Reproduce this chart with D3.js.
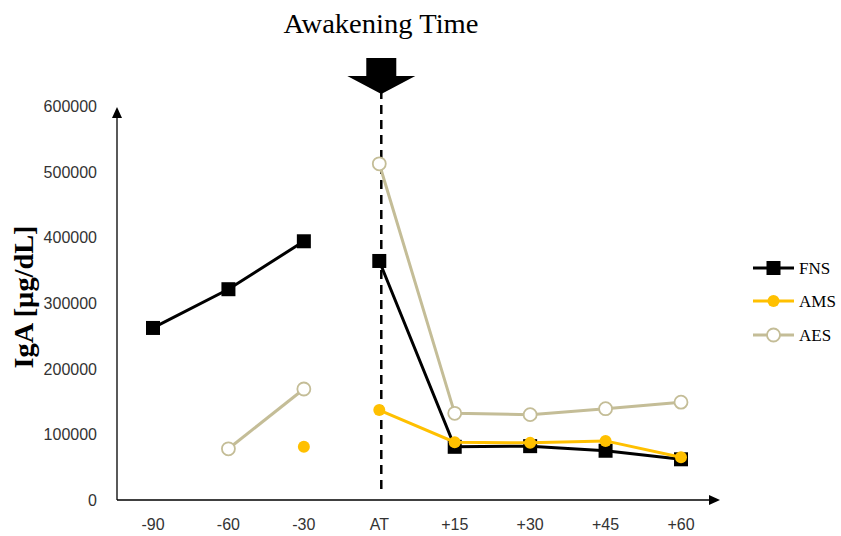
<!DOCTYPE html>
<html><head><meta charset="utf-8">
<script src="https://cdn.jsdelivr.net/npm/d3@7"></script>
<style>body{margin:0;background:#fff}</style>
</head><body>
<svg id="c" width="841" height="536"></svg>
<script>
const categories = ["-90","-60","-30","AT","+15","+30","+45","+60"];
const yTicks = [0,100000,200000,300000,400000,500000,600000];
const fns = [262000,321000,394000,364000,81000,82000,75000,62000];
const ams = [null,null,81000,137000,88000,87000,90000,65000];
const aes = [null,78000,169000,512000,132000,130000,139000,149000];
// segments not connected across the gap before AT
const breakBefore = "AT";

const svg = d3.select("#c");
const x = d3.scalePoint().domain(categories).range([153,681]);
const y = d3.scaleLinear().domain([0,600000]).range([500,106]);

// axes
svg.append("line").attr("x1",117).attr("x2",117).attr("y1",500).attr("y2",116).attr("stroke","#000").attr("stroke-width",1.3);
svg.append("path").attr("d","M117,107 L112,118 L122,118 Z").attr("fill","#000");
svg.append("line").attr("x1",117).attr("x2",710).attr("y1",500).attr("y2",500).attr("stroke","#000").attr("stroke-width",1.3);
svg.append("path").attr("d","M720,500 L709,495 L709,505 Z").attr("fill","#000");

const tickFont = "'Liberation Sans', Arial, sans-serif";
svg.selectAll(".yt").data(yTicks).enter().append("text")
  .attr("x",97).attr("y",d=>y(d)+6).attr("text-anchor","end")
  .attr("font-family",tickFont).attr("font-size",16).attr("fill","#333").text(d=>d);
svg.selectAll(".xt").data(categories).enter().append("text")
  .attr("x",d=>x(d)).attr("y",530).attr("text-anchor","middle")
  .attr("font-family",tickFont).attr("font-size",16).attr("fill","#333").text(d=>d);

svg.append("text").attr("transform","translate(33,297) rotate(-90)").attr("text-anchor","middle")
  .attr("font-family","'Liberation Serif','Times New Roman',serif").attr("font-weight","bold").attr("font-size",27)
  .attr("textLength",143).attr("lengthAdjust","spacingAndGlyphs").text("IgA [µg/dL]");

// awakening time
const ax = x("AT")+2;
svg.append("text").attr("x",381).attr("y",33).attr("text-anchor","middle")
  .attr("font-family","'Liberation Serif','Times New Roman',serif").attr("font-size",27)
  .attr("textLength",195).attr("lengthAdjust","spacingAndGlyphs").text("Awakening Time");
svg.append("line").attr("x1",ax).attr("x2",ax).attr("y1",90).attr("y2",490)
  .attr("stroke","#000").attr("stroke-width",2.5).attr("stroke-dasharray","9,6");
svg.append("path").attr("d",`M${ax-15},58 L${ax+15},58 L${ax+15},76 L${ax+34},76 L${ax},94 L${ax-34},76 L${ax-15},76 Z`).attr("fill","#000");

function segs(vals){
  const out=[];let cur=[];
  categories.forEach((c,i)=>{
    if(c===breakBefore && cur.length){out.push(cur);cur=[];}
    if(vals[i]==null){if(cur.length)out.push(cur);cur=[];return;}
    cur.push([x(c),y(vals[i])]);
  });
  if(cur.length)out.push(cur);
  return out.filter(s=>s.length>1);
}
const line = d3.line();
const series = [
  {name:"FNS",vals:fns,color:"#000000",marker:"square"},
  {name:"AES",vals:aes,color:"#C4BD97",marker:"open"},
  {name:"AMS",vals:ams,color:"#FFC000",marker:"dot"}
];
function marker(g,m,color,cx,cy){
  if(m==="square") g.append("rect").attr("x",cx-7).attr("y",cy-7).attr("width",14).attr("height",14).attr("fill","#000");
  else if(m==="dot") g.append("circle").attr("cx",cx).attr("cy",cy).attr("r",6).attr("fill",color);
  else g.append("circle").attr("cx",cx).attr("cy",cy).attr("r",6.5).attr("fill","#fff").attr("stroke",color).attr("stroke-width",1.8);
}
["AES","FNS","AMS"].forEach(n=>{
  const s=series.find(d=>d.name===n);
  segs(s.vals).forEach(sg=>svg.append("path").attr("d",line(sg)).attr("fill","none").attr("stroke",s.color).attr("stroke-width",3));
  const g=svg.append("g");
  s.vals.forEach((v,i)=>{ if(v!=null) marker(g,s.marker,s.color,x(categories[i]),y(v)); });
});

// legend
const legY=[268,301,335];
["FNS","AMS","AES"].forEach((n,i)=>{
  const s=series.find(d=>d.name===n);
  svg.append("line").attr("x1",753).attr("x2",794).attr("y1",legY[i]).attr("y2",legY[i]).attr("stroke",s.color).attr("stroke-width",3);
  marker(svg,s.marker,s.color,773.5,legY[i]);
  svg.append("text").attr("x",799).attr("y",legY[i]+6).attr("font-family","'Liberation Serif','Times New Roman',serif").attr("font-size",17).text(n);
});
</script>
</body></html>
